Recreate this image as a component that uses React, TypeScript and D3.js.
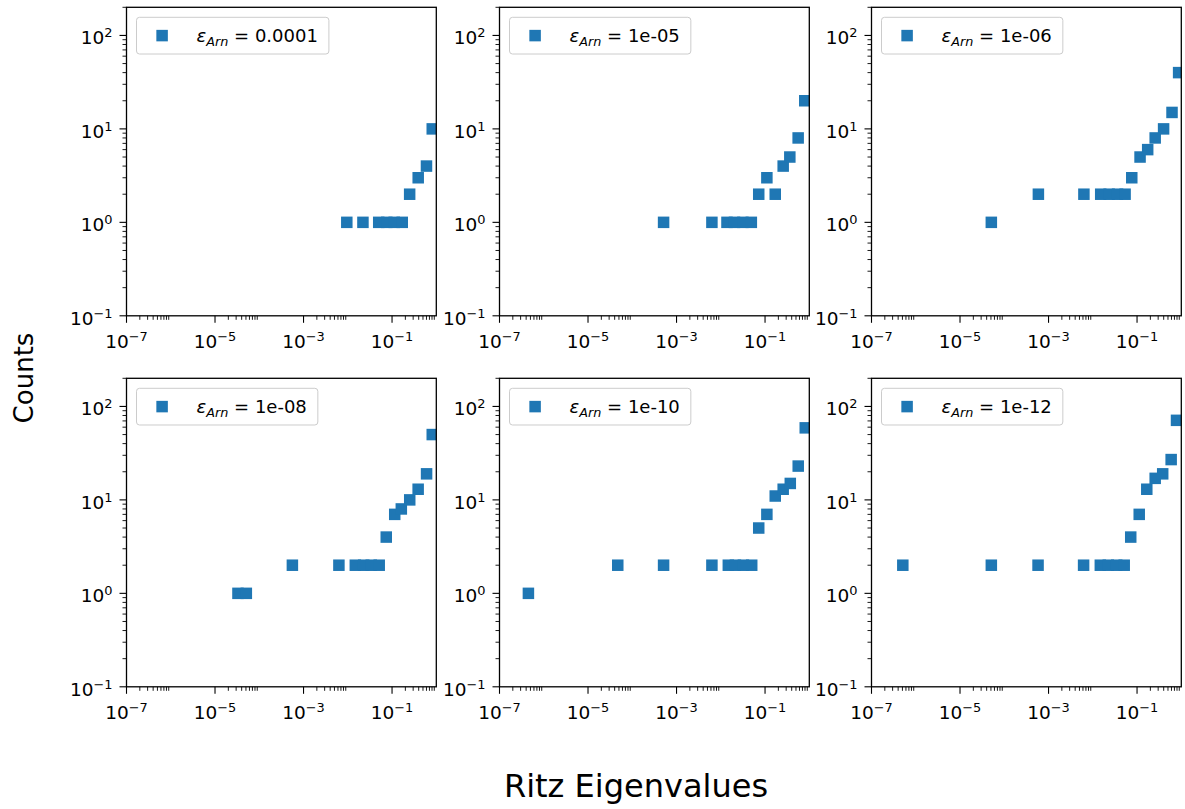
import React, { useRef, useEffect } from 'react';
import * as d3 from 'd3';

// tolerance of each run, shown in the legend
const epsLabels = ['0.0001', '1e-05', '1e-06', '1e-08', '1e-10', '1e-12'];

// Ritz eigenvalue positions and counts
const ritzEps4 = [0.0095, 0.022, 0.05, 0.076, 0.112, 0.17, 0.25, 0.39, 0.6, 0.81];
const countsEps4 = [1, 1, 1, 1, 1, 1, 2, 3, 4, 10];

const ritzEps5 = [0.00051, 0.0063, 0.0138, 0.0204, 0.0316, 0.049, 0.072, 0.11, 0.17, 0.257, 0.363, 0.56, 0.79];
const countsEps5 = [1, 1, 1, 1, 1, 1, 2, 3, 2, 4, 5, 8, 20];

const ritzEps6 = [5.1e-5, 0.00059, 0.0063, 0.0151, 0.0234, 0.0363, 0.0537, 0.076, 0.117, 0.174, 0.257, 0.398, 0.617, 0.87];
const countsEps6 = [1, 2, 2, 2, 2, 2, 2, 3, 5, 6, 8, 10, 15, 40];

const ritzEps8 = [3.3e-5, 5.1e-5, 0.00056, 0.0063, 0.0148, 0.0229, 0.0339, 0.0513, 0.074, 0.115, 0.162, 0.251, 0.389, 0.603, 0.81];
const countsEps8 = [1, 1, 2, 2, 2, 2, 2, 2, 4, 7, 8, 10, 13, 19, 50];

const ritzEps10 = [4.5e-7, 4.7e-5, 0.00051, 0.0063, 0.0148, 0.0214, 0.0324, 0.05, 0.072, 0.11, 0.17, 0.257, 0.372, 0.562, 0.81];
const countsEps10 = [1, 2, 2, 2, 2, 2, 2, 2, 5, 7, 11, 13, 15, 23, 59];

const ritzEps12 = [5.1e-7, 5.1e-5, 0.00058, 0.0062, 0.0148, 0.0224, 0.0347, 0.0513, 0.072, 0.112, 0.166, 0.257, 0.38, 0.59, 0.78];
const countsEps12 = [2, 2, 2, 2, 2, 2, 2, 2, 4, 7, 13, 17, 19, 27, 71];

const xMajorTicks = [1e-7, 1e-5, 1e-3, 1e-1];
const yMajorTicks = [1e-1, 1, 10, 100];
const xDomain = [1e-7, 1];
const yDomain = [0.1, 200];

const panels = [
  { eps: epsLabels[0], x: ritzEps4, y: countsEps4 },
  { eps: epsLabels[1], x: ritzEps5, y: countsEps5 },
  { eps: epsLabels[2], x: ritzEps6, y: countsEps6 },
  { eps: epsLabels[3], x: ritzEps8, y: countsEps8 },
  { eps: epsLabels[4], x: ritzEps10, y: countsEps10 },
  { eps: epsLabels[5], x: ritzEps12, y: countsEps12 },
];

const W = 1185;
const H = 809;
const colLeft = [126.5, 499.5, 871.5];
const rowTop = [7.3, 378.3];
const PW = 309.8;
const PH = 308.5;
const MS = 11.5; // marker size
const BLUE = '#1f77b4';
const FONT = '"DejaVu Sans", sans-serif';
const TICK_FS = 18.5;

const powLabel = (text, v) => {
  const e = Math.round(Math.log10(v));
  text.append('tspan').text('10');
  text.append('tspan')
    .attr('font-size', TICK_FS * 0.7)
    .attr('dy', -7)
    .text(e < 0 ? '\u2212' + -e : String(e));
};

const App = () => {
  const svgRef = useRef(null);

  useEffect(() => {
    const svg = d3.select(svgRef.current);
    svg.selectAll('*').remove();

    svg.append('rect').attr('width', W).attr('height', H).attr('fill', '#fff');

    const xMinor = xMajorTicks.flatMap(t => d3.range(2, 10).map(k => k * t)).filter(v => v <= xDomain[1] * 1.0001);
    const yMinor = yMajorTicks.flatMap(t => d3.range(2, 10).map(k => k * t)).filter(v => v <= yDomain[1] * 1.0001);

    panels.forEach((p, i) => {
      const left = colLeft[i % 3];
      const top = rowTop[Math.floor(i / 3)];
      const x = d3.scaleLog().domain(xDomain).range([0, PW]);
      const y = d3.scaleLog().domain(yDomain).range([PH, 0]);

      const g = svg.append('g').attr('transform', `translate(${left},${top})`);
      const clipId = `clip-${i}`;
      g.append('clipPath').attr('id', clipId)
        .append('rect').attr('width', PW).attr('height', PH);

      // data markers
      g.append('g').attr('clip-path', `url(#${clipId})`)
        .selectAll('rect')
        .data(p.x.map((v, j) => [v, p.y[j]]))
        .join('rect')
        .attr('x', d => x(d[0]) - MS / 2)
        .attr('y', d => y(d[1]) - MS / 2)
        .attr('width', MS)
        .attr('height', MS)
        .attr('fill', BLUE);

      // x ticks
      const xt = g.append('g').attr('transform', `translate(0,${PH})`);
      xt.selectAll('line.minor').data(xMinor).join('line')
        .attr('x1', d => x(d)).attr('x2', d => x(d))
        .attr('y1', 0).attr('y2', 4)
        .attr('stroke', '#000').attr('stroke-width', 0.9);
      xt.selectAll('line.major').data(xMajorTicks).join('line')
        .attr('x1', d => x(d)).attr('x2', d => x(d))
        .attr('y1', 0).attr('y2', 7)
        .attr('stroke', '#000').attr('stroke-width', 1.1);
      xMajorTicks.forEach(v => {
        const t = xt.append('text')
          .attr('x', x(v)).attr('y', 32)
          .attr('text-anchor', 'middle')
          .attr('font-family', FONT).attr('font-size', TICK_FS)
          .attr('fill', '#000');
        powLabel(t, v);
      });

      // y ticks
      const yt = g.append('g');
      yt.selectAll('line.minor').data(yMinor).join('line')
        .attr('x1', 0).attr('x2', -4)
        .attr('y1', d => y(d)).attr('y2', d => y(d))
        .attr('stroke', '#000').attr('stroke-width', 0.9);
      yt.selectAll('line.major').data(yMajorTicks).join('line')
        .attr('x1', 0).attr('x2', -7)
        .attr('y1', d => y(d)).attr('y2', d => y(d))
        .attr('stroke', '#000').attr('stroke-width', 1.1);
      yMajorTicks.forEach(v => {
        const t = yt.append('text')
          .attr('x', -14).attr('y', y(v) + 9)
          .attr('text-anchor', 'end')
          .attr('font-family', FONT).attr('font-size', TICK_FS)
          .attr('fill', '#000');
        powLabel(t, v);
      });

      // frame
      g.append('rect')
        .attr('width', PW).attr('height', PH)
        .attr('fill', 'none').attr('stroke', '#000').attr('stroke-width', 1.3);

      // legend
      const lg = g.append('g').attr('transform', 'translate(10,10)');
      const box = lg.append('rect')
        .attr('height', 36.7).attr('rx', 3)
        .attr('fill', '#fff').attr('fill-opacity', 0.8)
        .attr('stroke', '#cccccc').attr('stroke-width', 1);
      lg.append('rect')
        .attr('x', 25.6 - MS / 2).attr('y', 18.3 - MS / 2)
        .attr('width', MS).attr('height', MS)
        .attr('fill', BLUE);
      const lt = lg.append('text')
        .attr('x', 60).attr('y', 25)
        .attr('font-family', FONT).attr('font-size', 18)
        .attr('fill', '#000');
      lt.append('tspan').attr('font-style', 'italic').text('\u03b5');
      lt.append('tspan').attr('font-style', 'italic').attr('font-size', 12.8).attr('dy', 4).text('Arn');
      lt.append('tspan').attr('dy', -4).text(' = ' + p.eps);
      const tw = lt.node().getComputedTextLength();
      box.attr('width', 60 + tw + 11);
    });

    // shared axis labels
    svg.append('text')
      .attr('transform', 'translate(33,378) rotate(-90)')
      .attr('text-anchor', 'middle')
      .attr('font-family', FONT).attr('font-size', 26)
      .attr('fill', '#000')
      .text('Counts');
    svg.append('text')
      .attr('x', 636).attr('y', 797)
      .attr('text-anchor', 'middle')
      .attr('font-family', FONT).attr('font-size', 32)
      .attr('fill', '#000')
      .text('Ritz Eigenvalues');
  }, []);

  return (
    <svg
      ref={svgRef}
      width={W}
      height={H}
      style={{ position: 'absolute', left: 0, top: 0 }}
    />
  );
};

export default App;
